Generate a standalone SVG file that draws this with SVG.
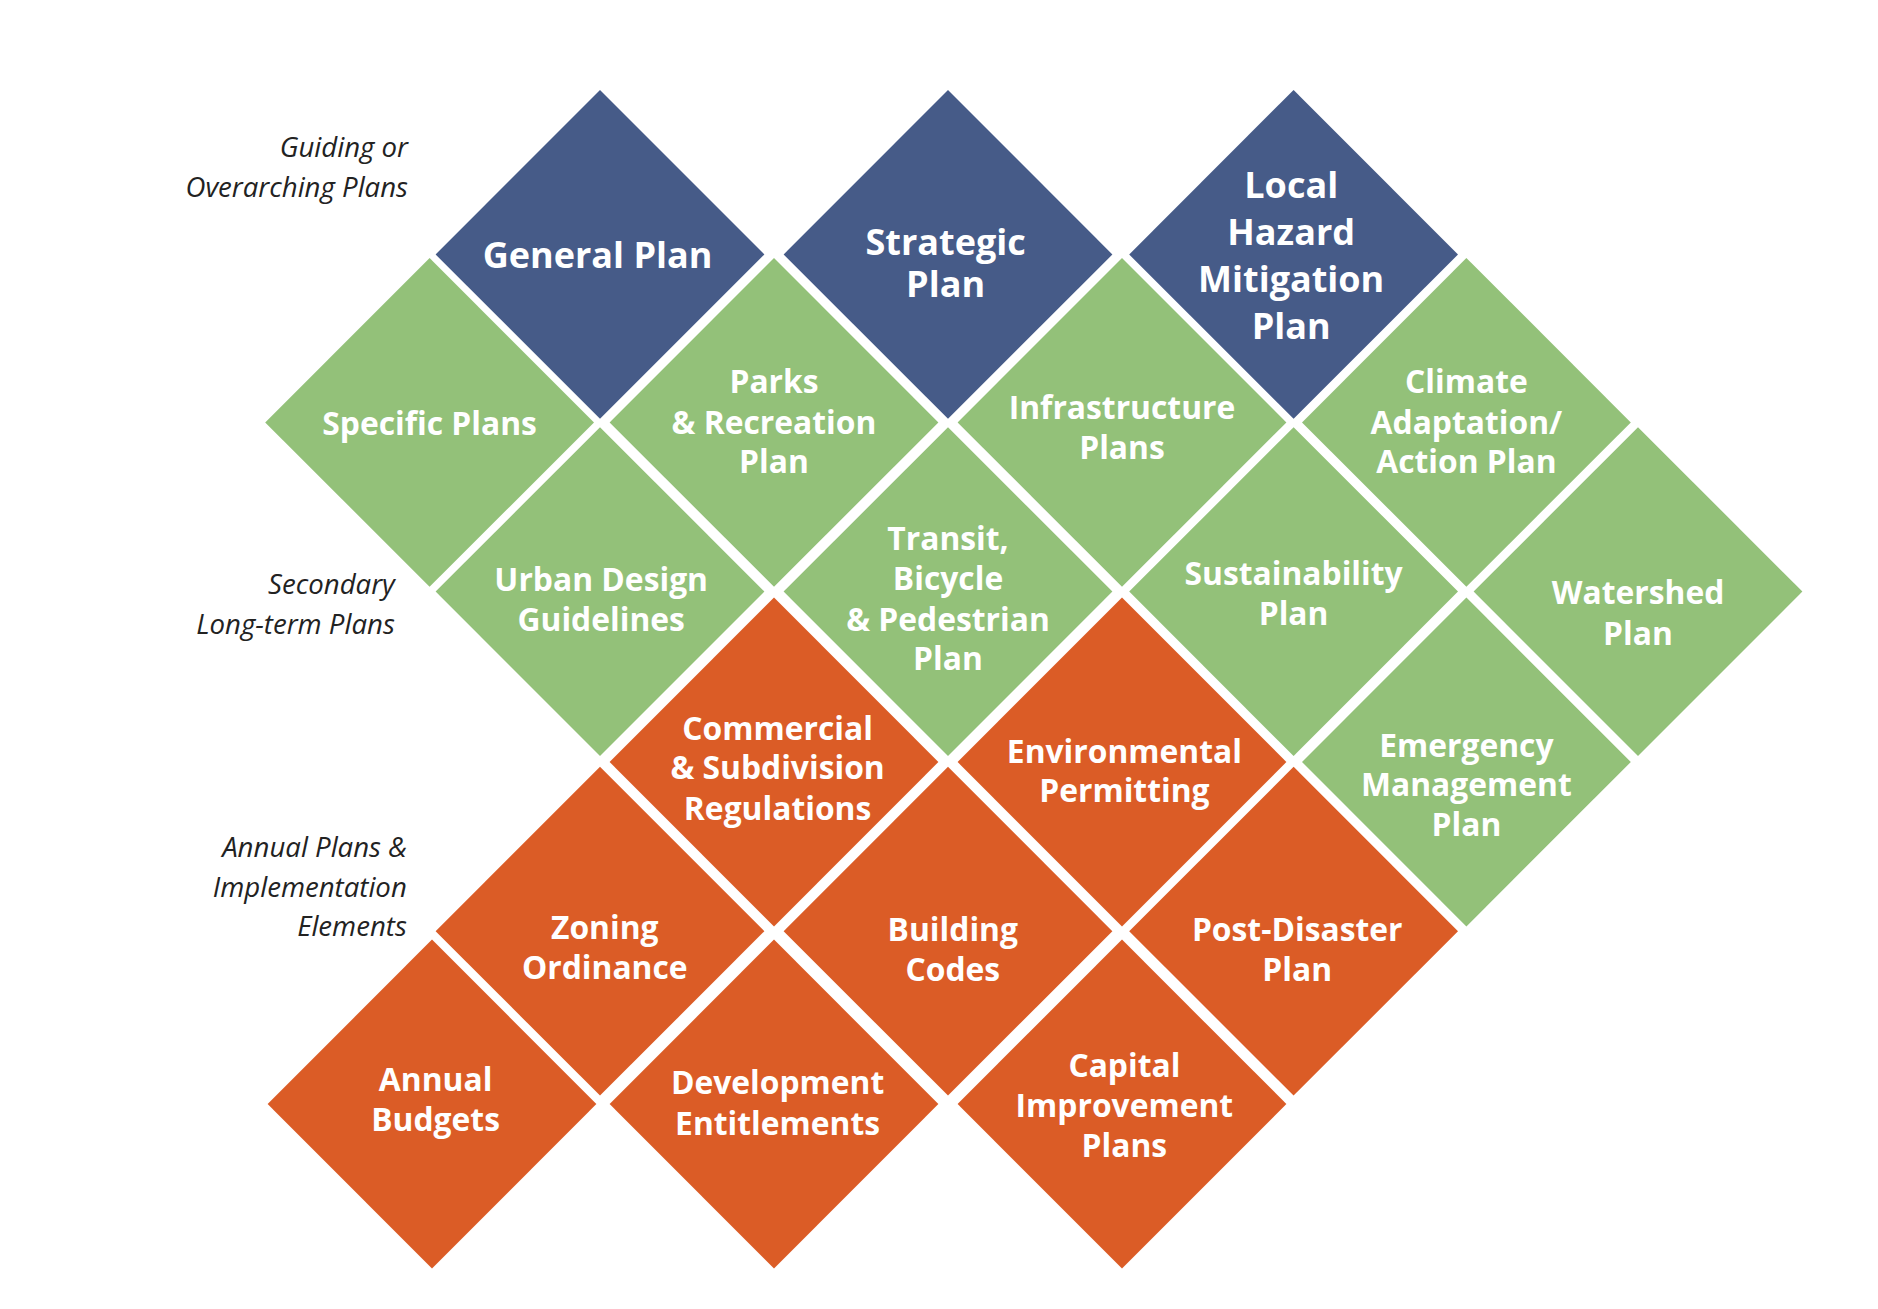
<svg xmlns="http://www.w3.org/2000/svg" width="1878" height="1309" viewBox="0 0 1878 1309">
<style>
.b{fill:#465b88}.g{fill:#93c179}.o{fill:#db5c26}
.t{font-family:"Open Sans","Noto Sans",sans-serif;font-weight:bold;fill:#fff;text-anchor:middle;dominant-baseline:central;font-size:26.5px}
.tb{font-size:30px}
.l{font-family:"Open Sans","Noto Sans",sans-serif;font-style:italic;fill:#222;text-anchor:end;dominant-baseline:central;font-size:23px}
</style>
<defs><path id="d" d="M0,-137 L137,0 L0,137 L-137,0 Z"/></defs>
<rect width="1878" height="1309" fill="#fff"/>
<g transform="scale(1.2)">
<g id="labels">
<text class="l" x="340" y="122">Guiding or</text><text class="l" x="340" y="155">Overarching Plans</text>
<text class="l" x="329" y="486">Secondary</text><text class="l" x="329" y="519">Long-term Plans</text>
<text class="l" x="339" y="705">Annual Plans &amp;</text><text class="l" x="339" y="738">Implementation</text><text class="l" x="339" y="771">Elements</text>
</g>
<g id="connectors"/>
<g id="general"><use href="#d" class="b" x="500" y="212"/><text class="t tb" x="498" y="212">General Plan</text></g>
<g id="strategic"><use href="#d" class="b" x="790" y="212"/><text class="t tb" x="788" y="201">Strategic</text><text class="t tb" x="788" y="236">Plan</text></g>
<g id="hazard"><use href="#d" class="b" x="1078" y="212"/><text class="t tb" x="1076" y="154">Local</text><text class="t tb" x="1076" y="193">Hazard</text><text class="t tb" x="1076" y="232">Mitigation</text><text class="t tb" x="1076" y="271">Plan</text></g>
<g id="specific"><use href="#d" class="g" x="358" y="352"/><text class="t" x="358" y="352">Specific Plans</text></g>
<g id="parks"><use href="#d" class="g" x="645" y="352"/><text class="t" x="645" y="317">Parks</text><text class="t" x="645" y="351">&amp; Recreation</text><text class="t" x="645" y="384">Plan</text></g>
<g id="infra"><use href="#d" class="g" x="935" y="352"/><text class="t" x="935" y="339">Infrastructure</text><text class="t" x="935" y="372">Plans</text></g>
<g id="climate"><use href="#d" class="g" x="1222" y="352"/><text class="t" x="1222" y="317">Climate</text><text class="t" x="1222" y="351">Adaptation/</text><text class="t" x="1222" y="384">Action Plan</text></g>
<g id="urban"><use href="#d" class="g" x="500" y="493"/><text class="t" x="501" y="482">Urban Design</text><text class="t" x="501" y="515">Guidelines</text></g>
<g id="transit"><use href="#d" class="g" x="790" y="493"/><text class="t" x="790" y="448">Transit,</text><text class="t" x="790" y="481">Bicycle</text><text class="t" x="790" y="515">&amp; Pedestrian</text><text class="t" x="790" y="548">Plan</text></g>
<g id="sustain"><use href="#d" class="g" x="1078" y="493"/><text class="t" x="1078" y="477">Sustainability</text><text class="t" x="1078" y="510">Plan</text></g>
<g id="watershed"><use href="#d" class="g" x="1365" y="493"/><text class="t" x="1365" y="493">Watershed</text><text class="t" x="1365" y="527">Plan</text></g>
<g id="emergency"><use href="#d" class="g" x="1222" y="635"/><text class="t" x="1222" y="620">Emergency</text><text class="t" x="1222" y="653">Management</text><text class="t" x="1222" y="686">Plan</text></g>
<g id="commercial"><use href="#d" class="o" x="645" y="635"/><text class="t" x="648" y="606">Commercial</text><text class="t" x="648" y="639">&amp; Subdivision</text><text class="t" x="648" y="673">Regulations</text></g>
<g id="environmental"><use href="#d" class="o" x="935" y="635"/><text class="t" x="937" y="625">Environmental</text><text class="t" x="937" y="658">Permitting</text></g>
<g id="zoning"><use href="#d" class="o" x="500" y="776"/><text class="t" x="504" y="772">Zoning</text><text class="t" x="504" y="805">Ordinance</text></g>
<g id="building"><use href="#d" class="o" x="790" y="776"/><text class="t" x="794" y="774">Building</text><text class="t" x="794" y="807">Codes</text></g>
<g id="postdisaster"><use href="#d" class="o" x="1078" y="776"/><text class="t" x="1081" y="774">Post-Disaster</text><text class="t" x="1081" y="807">Plan</text></g>
<g id="budgets"><use href="#d" class="o" x="360" y="920"/><text class="t" x="363" y="899">Annual</text><text class="t" x="363" y="932">Budgets</text></g>
<g id="development"><use href="#d" class="o" x="645" y="920"/><text class="t" x="648" y="901">Development</text><text class="t" x="648" y="935">Entitlements</text></g>
<g id="capital"><use href="#d" class="o" x="935" y="920"/><text class="t" x="937" y="887">Capital</text><text class="t" x="937" y="920">Improvement</text><text class="t" x="937" y="954">Plans</text></g>
</g>
</svg>
